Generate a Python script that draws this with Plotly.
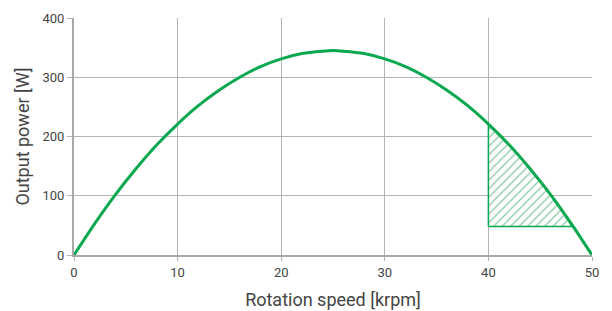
import plotly.graph_objects as go

# Curve readings: rotation speed [krpm] vs output power [W]
speed = [0, 2, 4, 6, 8, 10, 12, 14, 16, 18, 20, 22, 24, 25, 26, 28, 30, 32, 34, 36, 38, 40, 42, 44, 46, 48, 50]
power = [0, 53, 102, 146, 186, 221, 252, 278, 300, 318, 331, 340, 344, 345, 344, 340, 331, 318, 300, 278, 252, 221, 186, 146, 102, 53, 0]

# Hatched operating region
region_speed = [40, 40, 42, 44, 46, 48.1, 40]
region_power = [48, 220, 186, 146, 102, 48, 48]

x_ticks = [0, 10, 20, 30, 40, 50]
y_ticks = [0, 100, 200, 300, 400]

green = "#0aa84f"
grid = "#b4b4b4"

fig = go.Figure()
fig.add_trace(go.Scatter(
    x=region_speed, y=region_power, mode="lines", fill="toself",
    fillcolor="rgba(0,0,0,0)",
    fillpattern=dict(shape="/", fgcolor="#079043", bgcolor="white", size=6, solidity=0.2),
    line=dict(color=green, width=1.5), hoverinfo="skip", showlegend=False))
fig.add_trace(go.Scatter(
    x=speed, y=power, mode="lines", line=dict(color=green, width=3, shape="spline", smoothing=0.6),
    showlegend=False))

# page body has an 8px margin, so the figure is sized/margined to compensate
fig.update_layout(
    width=604, height=303,
    margin=dict(l=66, r=20, t=10, b=56),
    plot_bgcolor="white", paper_bgcolor="white",
    font=dict(family="Roboto, Liberation Sans, sans-serif", color="#444", size=13),
)
fig.update_xaxes(
    range=[0, 50], tickvals=x_ticks, showgrid=True, gridcolor=grid, gridwidth=1,
    showline=True, linecolor="#a8a8a8", linewidth=2, zeroline=False,
    ticks="outside", ticklen=4, tickcolor=grid, automargin=False,
    title=dict(text="Rotation speed [krpm]", font=dict(size=18, color="#444"), standoff=15))
fig.update_yaxes(
    range=[0, 400], tickvals=y_ticks, showgrid=True, gridcolor=grid, gridwidth=1,
    showline=True, linecolor="#a8a8a8", linewidth=2, zeroline=False,
    ticks="outside", ticklen=5, tickcolor=grid, automargin=False,
    title=dict(text="Output power [W]", font=dict(size=18, color="#444"), standoff=8))

fig.write_html("out.html")
